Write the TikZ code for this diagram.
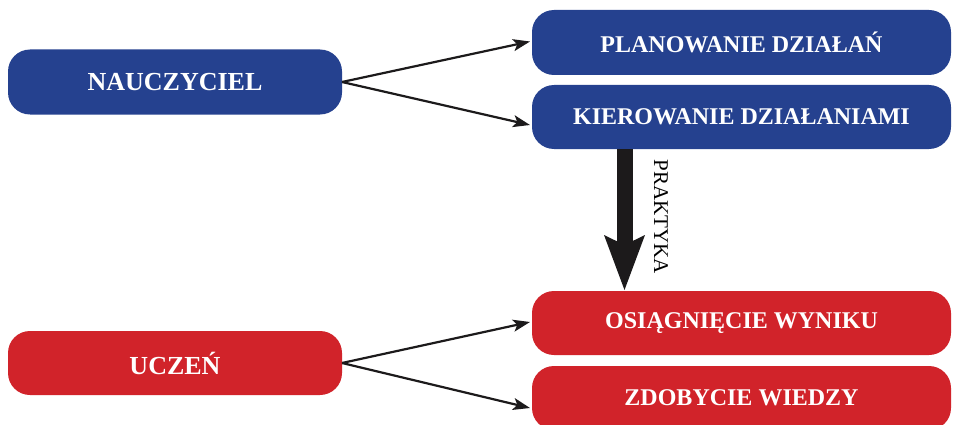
\documentclass[tikz,border=0pt]{standalone}
\usepackage{fontspec}
\setmainfont{Liberation Serif}
\usetikzlibrary{arrows.meta}
\definecolor{boxblue}{RGB}{37,65,143}
\definecolor{boxred}{RGB}{209,35,42}
\definecolor{ink}{RGB}{28,26,27}
\tikzset{
  panel/.style={rounded corners=22pt, text=white, font=\bfseries\fontsize{24}{28}\selectfont,
    minimum height=64pt, inner sep=0pt, outer sep=0pt},
  rolebox/.style={panel, minimum width=334pt, font=\bfseries\fontsize{26}{30}\selectfont},
  taskbox/.style={panel, minimum width=419pt},
  bluefill/.style={fill=boxblue},
  redfill/.style={fill=boxred},
  link/.style={draw=ink, line width=2.2pt, -{Stealth[length=17pt,width=12pt,inset=4pt]}},
  bigarrow/.style={draw=ink, line width=16pt, -{Stealth[length=55pt,width=41pt,inset=10pt,line width=0pt]}}
}
\begin{document}
\begin{tikzpicture}[x=1pt,y=1pt]
\useasboundingbox (0,0) rectangle (953,424);
% teacher side
\node[rolebox, bluefill, minimum height=65pt] (nau) at (175,342) {NAUCZYCIEL};
\node[taskbox, bluefill, minimum height=65pt] (plan) at (741.5,381.5) {PLANOWANIE DZIAŁAŃ};
\node[taskbox, bluefill] (kier) at (741.5,307) {KIEROWANIE DZIAŁANIAMI};
% student side
\node[rolebox, redfill] (ucz) at (175,61) {UCZEŃ};
\node[taskbox, redfill] (osi) at (741.5,101) {OSIĄGNIĘCIE WYNIKU};
\node[taskbox, redfill] (zdo) at (741.5,26) {ZDOBYCIE WIEDZY};
% links
\draw[link] (nau.east) -- ([xshift=-2pt,yshift=1pt]plan.west);
\draw[link] (nau.east) -- ([xshift=-2pt,yshift=-8pt]kier.west);
\draw[link] (ucz.east) -- ([xshift=-2pt,yshift=1pt]osi.west);
\draw[link] (ucz.east) -- ([xshift=-2pt,yshift=-10pt]zdo.west);
% practice arrow
\coordinate (pfrom) at ([xshift=-117pt]kier.south);
\coordinate (pto) at ([xshift=-117pt,yshift=1pt]osi.north);
\draw[bigarrow] (pfrom) -- (pto);
\node[rotate=-90, font=\fontsize{21}{24}\selectfont, inner sep=0pt] (prak) at (661,207.5) {PRAKTYKA};
\end{tikzpicture}
\end{document}
